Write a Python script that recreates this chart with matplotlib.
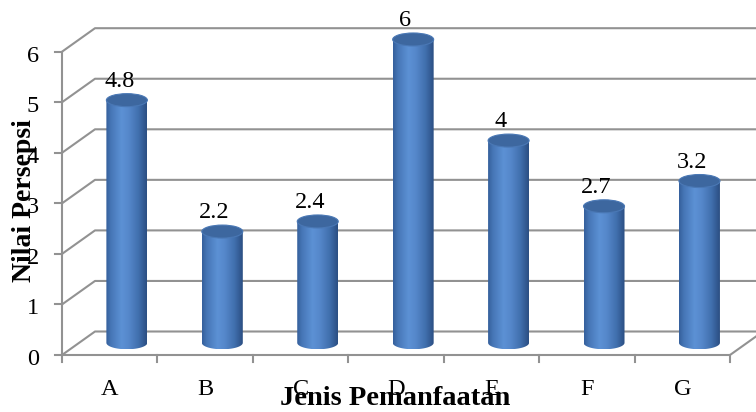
import numpy as np
import matplotlib
matplotlib.use("Agg")
import matplotlib.pyplot as plt
from matplotlib.patches import Ellipse, PathPatch
from matplotlib.path import Path
from matplotlib.colors import LinearSegmentedColormap
from matplotlib.transforms import offset_copy

# ---- data ----
categories = ["A", "B", "C", "D", "E", "F", "G"]
values = [4.8, 2.2, 2.4, 6, 4, 2.7, 3.2]
value_labels = ["4.8", "2.2", "2.4", "6", "4", "2.7", "3.2"]
y_ticks = [0, 1, 2, 3, 4, 5, 6]
x_title = "Jenis Pemanfaatan"
y_title = "Nilai Persepsi"

plt.rcParams["font.family"] = ["Liberation Serif", "DejaVu Serif"]

W, H, DPI = 756, 412, 100
fig = plt.figure(figsize=(W / DPI, H / DPI), dpi=DPI)
ax = fig.add_axes([0, 0, 1, 1])
ax.set_axis_off()

# front plane geometry (pixels)
LEFT_PX, RIGHT_PX = 62, 730
ZERO_PX, TOP_PX = 355, 51.7
n = len(categories)
CAT_PX = (RIGHT_PX - LEFT_PX) / n
VAL_PX = (ZERO_PX - TOP_PX) / max(y_ticks)

# depth offset of the back wall, in data units
DX = 33 / CAT_PX
DY = 23.5 / VAL_PX

xmin = -0.5 - LEFT_PX / CAT_PX
xmax = -0.5 + (W - LEFT_PX) / CAT_PX
ymin = -(H - ZERO_PX) / VAL_PX
ymax = ZERO_PX / VAL_PX

GRID = "#929292"
LW = 1.5
TICK_X = 7 / CAT_PX
TICK_Y = 7 / VAL_PX
x_left = -0.5
x_right = n - 0.5

LABEL_FS = 17.5
TITLE_FS = 20.5

# back wall gridlines with side-wall diagonals
for k in y_ticks:
    ax.plot([x_left, x_left + DX, xmax + 1], [k, k + DY, k + DY],
            color=GRID, lw=LW, zorder=1, solid_capstyle="butt")
    ax.plot([x_left - TICK_X, x_left], [k, k], color=GRID, lw=LW, zorder=1)

# front value axis and floor edge
ax.plot([x_left, x_left], [0, max(y_ticks)], color=GRID, lw=LW, zorder=1)
ax.plot([x_left, x_right, x_right + DX], [0, 0, DY], color=GRID, lw=LW, zorder=1)
for j in range(n + 1):
    ax.plot([x_left + j, x_left + j], [0, -TICK_Y], color=GRID, lw=LW, zorder=1)

# cylinders
cyl_cmap = LinearSegmentedColormap.from_list(
    "cyl",
    [(0.00, "#355f9b"), (0.12, "#4676b6"), (0.38, "#5c91d5"),
     (0.55, "#5688cb"), (0.80, "#406fad"), (1.00, "#2b4e82")])
grad = np.linspace(0, 1, 256).reshape(1, -1)

R = 20.5 / CAT_PX        # radius across
E = 6.5 / VAL_PX         # ellipse half-height
DEPTH = 0.52

for i, v in enumerate(values):
    cx = i + DEPTH * DX
    y0 = DEPTH * DY
    y1 = v + DEPTH * DY
    t = np.linspace(np.pi, 2 * np.pi, 60)
    verts = [(cx - R, y1), (cx - R, y0)]
    verts += list(zip(cx + R * np.cos(t), y0 + E * np.sin(t)))
    verts += [(cx + R, y1), (cx - R, y1)]
    codes = [Path.MOVETO] + [Path.LINETO] * (len(verts) - 2) + [Path.CLOSEPOLY]
    body = PathPatch(Path(verts, codes), facecolor="none", edgecolor="none", zorder=3)
    ax.add_patch(body)
    im = ax.imshow(grad, extent=[cx - R, cx + R, y0 - E, y1], cmap=cyl_cmap,
                   aspect="auto", interpolation="bicubic", zorder=3)
    im.set_clip_path(body)
    ax.add_patch(Ellipse((cx, y1), 2 * R, 2 * E, facecolor="#3d679f",
                         edgecolor="#4a78b5", lw=0.8, zorder=4))
    # value label above the cylinder
    ax.text(i + 9.5 / CAT_PX, y1 + E + 7 / VAL_PX, value_labels[i],
            ha="center", va="baseline", fontsize=LABEL_FS, color="black", zorder=5)

# category labels
cat_tr = offset_copy(ax.transData, fig=fig, x=0, y=-40, units="dots")
for i, c in enumerate(categories):
    ax.text(i, 0, c, transform=cat_tr, ha="center", va="baseline", fontsize=LABEL_FS)

# value-axis labels
val_tr = offset_copy(ax.transData, fig=fig, x=-23, y=-10, units="dots")
for k in y_ticks:
    ax.text(x_left, k, str(k), transform=val_tr, ha="right", va="baseline",
            fontsize=LABEL_FS)

# axis titles
fig.text(395 / W, 1 - 405 / H, x_title, ha="center", va="baseline",
         fontsize=TITLE_FS, fontweight="bold")
fig.text(24.5 / W, 1 - 201 / H, y_title, ha="center", va="center",
         rotation=90, fontsize=20, fontweight="bold")

ax.set_xlim(xmin, xmax)
ax.set_ylim(ymin, ymax)

fig.savefig("out.png", dpi=DPI, facecolor="white")
